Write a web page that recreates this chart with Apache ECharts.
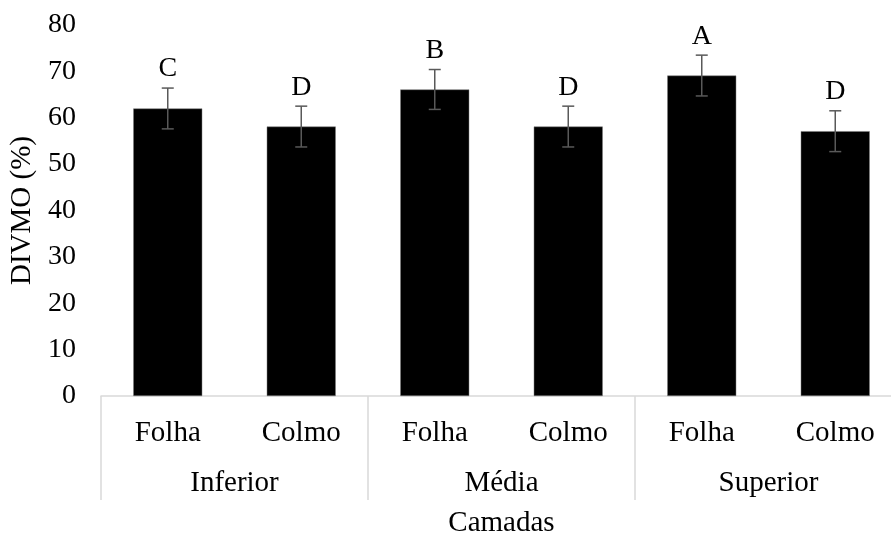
<!DOCTYPE html>
<html>
<head>
<meta charset="utf-8">
<script src="https://cdn.jsdelivr.net/npm/echarts@6/dist/echarts.min.js"></script>
<style>html,body{margin:0;padding:0;background:#fff;}#c{width:891px;height:533px;}</style>
</head>
<body>
<div id="c"></div>
<script>
const parts = ['Folha', 'Colmo', 'Folha', 'Colmo', 'Folha', 'Colmo'];
const layers = ['Inferior', 'Média', 'Superior'];
const divmo = [62.0, 58.1, 66.1, 58.1, 69.1, 57.1];
const errs = [4.4, 4.4, 4.3, 4.4, 4.4, 4.4];
const letters = ['C', 'D', 'B', 'D', 'A', 'D'];
const yTicks = [0, 80, 10];

const FONT = '"Liberation Serif", "Times New Roman", serif';
const chart = echarts.init(document.getElementById('c'), null, {renderer: 'canvas'});

const errData = divmo.map((v, i) => [i, v, errs[i], letters[i]]);

chart.setOption({
  animation: false,
  backgroundColor: '#fff',
  grid: {left: 101, top: 25, width: 801, bottom: 137, containLabel: false, outerBoundsMode: 'none'},
  xAxis: [{
    type: 'category',
    data: parts,
    position: 'bottom',
    axisLine: {show: true, lineStyle: {color: '#d9d9d9', width: 1.5}},
    axisTick: {show: false},
    axisLabel: {color: '#000', fontFamily: FONT, fontSize: 29, margin: 23, interval: 0}
  }, {
    type: 'category',
    data: layers,
    position: 'bottom',
    axisLine: {show: false},
    axisTick: {show: true, length: 104, alignWithLabel: false, lineStyle: {color: '#d9d9d9', width: 1.5}},
    axisLabel: {color: '#000', fontFamily: FONT, fontSize: 29, margin: 73, interval: 0},
    name: 'Camadas',
    nameLocation: 'middle',
    nameGap: 113,
    nameTextStyle: {color: '#000', fontFamily: FONT, fontSize: 29}
  }],
  yAxis: {
    type: 'value',
    min: yTicks[0], max: yTicks[1], interval: yTicks[2],
    axisLine: {show: false},
    axisTick: {show: false},
    splitLine: {show: false},
    axisLabel: {color: '#000', fontFamily: FONT, fontSize: 28, margin: 25},
    name: 'DIVMO (%)',
    nameLocation: 'middle',
    nameGap: 64,
    nameTextStyle: {color: '#000', fontFamily: FONT, fontSize: 29}
  },
  series: [{
    type: 'bar',
    data: divmo,
    xAxisIndex: 0,
    barWidth: 69,
    itemStyle: {color: '#000', borderColor: '#7f7f7f', borderWidth: 0.5}
  }, {
    type: 'custom',
    xAxisIndex: 0,
    data: errData,
    z: 10,
    renderItem: function (params, api) {
      const x = api.value(0);
      const v = api.value(1);
      const e = api.value(2);
      const top = api.coord([x, v + e]);
      const bot = api.coord([x, v - e]);
      const hw = 6;
      const st = {stroke: '#595959', lineWidth: 1.5};
      return {
        type: 'group',
        children: [
          {type: 'line', shape: {x1: top[0], y1: top[1], x2: bot[0], y2: bot[1]}, style: st},
          {type: 'line', shape: {x1: top[0] - hw, y1: top[1], x2: top[0] + hw, y2: top[1]}, style: st},
          {type: 'line', shape: {x1: bot[0] - hw, y1: bot[1], x2: bot[0] + hw, y2: bot[1]}, style: st},
          {type: 'text', x: top[0], y: top[1] - 19, style: {text: api.value(3), fill: '#000', font: '28px ' + FONT, align: 'center', verticalAlign: 'middle'}}
        ]
      };
    }
  }]
});
</script>
</body>
</html>
